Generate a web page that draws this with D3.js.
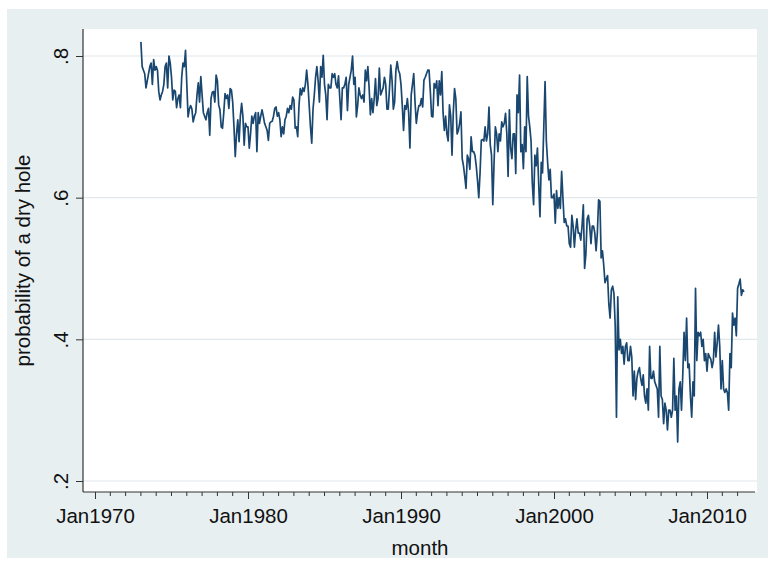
<!DOCTYPE html>
<html>
<head>
<meta charset="utf-8">
<script src="https://cdn.jsdelivr.net/npm/d3@7"></script>
<style>
  body { margin: 0; background: #ffffff; }
  svg text { font-family: "Liberation Sans", Arial, Helvetica, sans-serif; fill: #111; }
</style>
</head>
<body>
<div id="container"></div>
<script>

// monthly series, first value is Jan1973
const startYear = 1973;
const dryHole = [
  0.820,0.785,0.780,0.775,0.755,0.765,0.775,0.785,0.790,0.760,0.795,0.780, // 1973
  0.785,0.780,0.750,0.738,0.745,0.750,0.760,0.785,0.790,0.755,0.800,0.790, // 1974
  0.770,0.738,0.752,0.750,0.727,0.740,0.745,0.727,0.770,0.790,0.785,0.808, // 1975
  0.760,0.714,0.725,0.730,0.725,0.707,0.715,0.720,0.745,0.762,0.735,0.771, // 1976
  0.745,0.720,0.715,0.710,0.720,0.726,0.688,0.740,0.749,0.750,0.735,0.773, // 1977
  0.765,0.731,0.724,0.700,0.698,0.720,0.747,0.740,0.745,0.726,0.754,0.752, // 1978
  0.735,0.700,0.658,0.690,0.710,0.679,0.715,0.733,0.715,0.674,0.705,0.700, // 1979
  0.700,0.670,0.690,0.715,0.705,0.715,0.720,0.665,0.720,0.705,0.715,0.724, // 1980
  0.715,0.705,0.700,0.695,0.681,0.705,0.707,0.708,0.715,0.726,0.728,0.715, // 1981
  0.720,0.710,0.686,0.700,0.690,0.710,0.715,0.726,0.720,0.730,0.725,0.742, // 1982
  0.738,0.698,0.700,0.686,0.730,0.754,0.745,0.755,0.750,0.760,0.780,0.760, // 1983
  0.730,0.700,0.677,0.725,0.745,0.770,0.785,0.765,0.735,0.785,0.770,0.801, // 1984
  0.760,0.745,0.710,0.760,0.755,0.755,0.775,0.770,0.775,0.760,0.755,0.772, // 1985
  0.740,0.710,0.755,0.755,0.760,0.770,0.723,0.760,0.770,0.780,0.800,0.760, // 1986
  0.770,0.714,0.730,0.755,0.745,0.740,0.745,0.735,0.780,0.765,0.785,0.755, // 1987
  0.717,0.740,0.720,0.740,0.768,0.730,0.740,0.783,0.745,0.750,0.755,0.770, // 1988
  0.760,0.725,0.725,0.755,0.787,0.765,0.725,0.735,0.780,0.792,0.780,0.775, // 1989
  0.760,0.730,0.695,0.730,0.725,0.740,0.720,0.670,0.745,0.760,0.775,0.735, // 1990
  0.705,0.720,0.730,0.730,0.740,0.728,0.766,0.770,0.775,0.780,0.780,0.750, // 1991
  0.715,0.714,0.761,0.755,0.765,0.730,0.765,0.745,0.778,0.720,0.695,0.715, // 1992
  0.690,0.680,0.731,0.715,0.660,0.720,0.754,0.740,0.690,0.695,0.705,0.721, // 1993
  0.655,0.645,0.630,0.613,0.660,0.655,0.640,0.686,0.665,0.665,0.660,0.645, // 1994
  0.625,0.600,0.635,0.681,0.682,0.680,0.700,0.680,0.690,0.728,0.675,0.660, // 1995
  0.590,0.650,0.700,0.690,0.665,0.690,0.680,0.707,0.700,0.705,0.719,0.690, // 1996
  0.630,0.724,0.670,0.655,0.690,0.690,0.634,0.745,0.720,0.773,0.665,0.675, // 1997
  0.641,0.700,0.665,0.771,0.715,0.700,0.680,0.620,0.590,0.660,0.645,0.670, // 1998
  0.620,0.573,0.650,0.635,0.700,0.764,0.680,0.650,0.625,0.640,0.600,0.600, // 1999
  0.605,0.564,0.610,0.585,0.600,0.585,0.637,0.600,0.565,0.570,0.560,0.560, // 2000
  0.535,0.530,0.575,0.560,0.530,0.555,0.570,0.550,0.550,0.540,0.560,0.590, // 2001
  0.500,0.520,0.570,0.575,0.560,0.535,0.560,0.560,0.550,0.525,0.550,0.597, // 2002
  0.595,0.515,0.525,0.505,0.480,0.485,0.490,0.450,0.430,0.470,0.475,0.465, // 2003
  0.420,0.290,0.460,0.385,0.400,0.380,0.390,0.365,0.390,0.395,0.370,0.370, // 2004
  0.390,0.375,0.320,0.355,0.315,0.345,0.355,0.360,0.345,0.335,0.350,0.320, // 2005
  0.310,0.330,0.300,0.390,0.345,0.345,0.355,0.340,0.335,0.330,0.290,0.390, // 2006
  0.320,0.315,0.281,0.310,0.300,0.272,0.300,0.300,0.290,0.300,0.373,0.300, // 2007
  0.320,0.255,0.330,0.340,0.300,0.350,0.410,0.370,0.430,0.360,0.365,0.320, // 2008
  0.290,0.340,0.320,0.472,0.370,0.410,0.405,0.410,0.390,0.400,0.370,0.380, // 2009
  0.355,0.380,0.375,0.372,0.360,0.370,0.410,0.375,0.395,0.420,0.390,0.330, // 2010
  0.370,0.330,0.325,0.330,0.325,0.300,0.380,0.360,0.437,0.420,0.430,0.405, // 2011
  0.472,0.478,0.485,0.462,0.470,0.467                                      // 2012
];

const xTickYears = [1970, 1980, 1990, 2000, 2010];
const xTickLabels = ["Jan1970", "Jan1980", "Jan1990", "Jan2000", "Jan2010"];
const minorYears = d3.range(1970, 2013);
const yTicks = [0.2, 0.4, 0.6, 0.8];
const yTickLabels = [".2", ".4", ".6", ".8"];

const W = 768, H = 563;
const frame = {left: 83, right: 757, top: 29, bottom: 492};

// stata style monthly index (months since Jan1960)
const tm = (year, m) => (year - 1960) * 12 + m;
const data = dryHole.map((v, i) => ({t: tm(startYear, 0) + i, v: v}));

const svg = d3.select("#container")
  .append("svg")
    .attr("width", W)
    .attr("height", H);

// graph region
svg.append("rect")
  .attr("x", 7).attr("y", 9)
  .attr("width", W - 7).attr("height", 549)
  .attr("fill", "#e8eff1");

// plot region
svg.append("rect")
  .attr("x", frame.left).attr("y", frame.top)
  .attr("width", frame.right - frame.left)
  .attr("height", frame.bottom - frame.top)
  .attr("fill", "#ffffff");

const x = d3.scaleLinear()
  .domain([tm(1970, 0), tm(2010, 0)])
  .range([95, 707]);

const y = d3.scaleLinear()
  .domain([0.2, 0.8])
  .range([481, 56]);

// grid lines
svg.append("g")
  .selectAll("line")
  .data(yTicks)
  .join("line")
    .attr("x1", frame.left)
    .attr("x2", frame.right)
    .attr("y1", d => y(d))
    .attr("y2", d => y(d))
    .attr("stroke", "#e0e8eb")
    .attr("stroke-width", 1.2);

// the series
svg.append("path")
  .datum(data)
  .attr("d", d3.line()
    .x(d => x(d.t))
    .y(d => y(d.v)))
  .attr("fill", "none")
  .attr("stroke", "#1a476f")
  .attr("stroke-width", 1.7)
  .attr("stroke-linejoin", "round");

// y axis
const yAxis = svg.append("g")
  .attr("transform", `translate(${frame.left},0)`)
  .call(d3.axisLeft(y).tickValues(yTicks).tickSize(7).tickFormat((d, i) => yTickLabels[i]));
yAxis.select(".domain").remove();
yAxis.selectAll(".tick line").attr("stroke", "#333");
yAxis.selectAll(".tick text")
  .attr("x", 0).attr("dy", 0)
  .attr("transform", "translate(-15,0) rotate(-90)")
  .attr("text-anchor", "middle")
  .style("font-size", "20.5px")
  .style("font-family", "Liberation Sans, Arial, sans-serif");
svg.append("line")
  .attr("x1", frame.left).attr("x2", frame.left)
  .attr("y1", frame.top).attr("y2", frame.bottom)
  .attr("stroke", "#333").attr("stroke-width", 1.2);

// x axis, minor ticks first
svg.append("g")
  .selectAll("line")
  .data(minorYears.filter(yr => !xTickYears.includes(yr)))
  .join("line")
    .attr("x1", d => x(tm(d, 0)))
    .attr("x2", d => x(tm(d, 0)))
    .attr("y1", frame.bottom)
    .attr("y2", frame.bottom + 4)
    .attr("stroke", "#333");

const xAxis = svg.append("g")
  .attr("transform", `translate(0,${frame.bottom})`)
  .call(d3.axisBottom(x)
    .tickValues(xTickYears.map(yr => tm(yr, 0)))
    .tickSize(7)
    .tickFormat((d, i) => xTickLabels[i]));
xAxis.select(".domain").remove();
xAxis.selectAll(".tick line").attr("stroke", "#333");
xAxis.selectAll(".tick text")
  .attr("y", 16)
  .style("font-size", "20.5px")
  .style("font-family", "Liberation Sans, Arial, sans-serif");
svg.append("line")
  .attr("x1", frame.left).attr("x2", frame.right - 2)
  .attr("y1", frame.bottom).attr("y2", frame.bottom)
  .attr("stroke", "#333").attr("stroke-width", 1.2);

// axis titles
svg.append("text")
  .attr("x", (frame.left + frame.right) / 2)
  .attr("y", 555)
  .attr("text-anchor", "middle")
  .style("font-size", "20.5px")
  .text("month");

svg.append("text")
  .attr("transform", `translate(30,${(frame.top + frame.bottom) / 2}) rotate(-90)`)
  .attr("text-anchor", "middle")
  .style("font-size", "20.5px")
  .text("probability of a dry hole");

</script>
</body>
</html>
